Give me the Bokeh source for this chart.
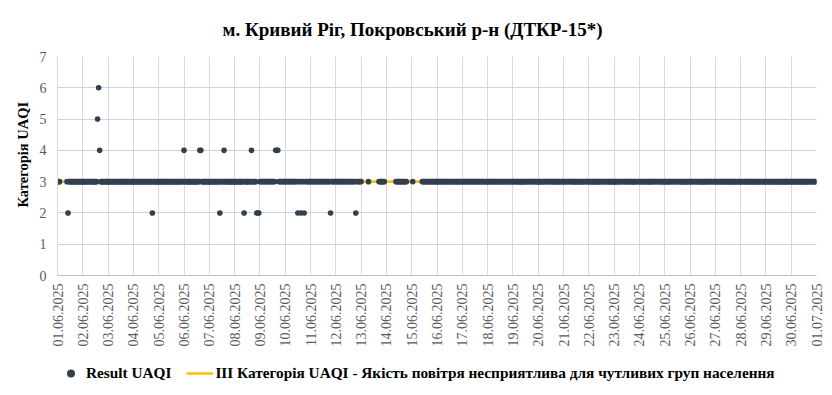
from datetime import datetime, timedelta
from math import pi

from bokeh.plotting import figure
from bokeh.layouts import column
from bokeh.models import (ColumnDataSource, DaysTicker, DatetimeTickFormatter,
                          FixedTicker, Legend, LegendItem, Range1d, Title)
from bokeh.embed import file_html
from bokeh.resources import INLINE

# ---------------- data ----------------
title_text = "м. Кривий Ріг, Покровський р-н (ДТКР-15*)"
y_label = "Категорія UAQI"
series_name = "Result UAQI"
threshold_name = ("III Категорія UAQI - Якість повітря несприятлива "
                  "для чутливих груп населення")

period_start = datetime(2025, 6, 1)
period_end = datetime(2025, 7, 1)
n_hours = 720              # hourly readings 01.06 00:00 .. 30.06 23:00
base_value = 3             # value of every hour not listed below

# hours (counted from 01.06 00:00) with no reading
gap_starts = [3, 289, 296, 311, 332, 338]
gap_ends = [8, 294, 304, 320, 336, 345]

# hours whose category differs from 3
outlier_hours = [10, 38, 39, 40, 90, 120, 135, 136, 154, 158, 177, 184,
                 189, 190, 191, 207, 208, 209, 228, 231, 234, 259, 283]
outlier_values = [2, 5, 6, 4, 2, 4, 4, 4, 2, 4, 2, 4,
                  2, 2, 2, 4, 4, 4, 2, 2, 2, 2, 2]

threshold_x = [period_start, period_end]
threshold_y = [3, 3]

y_ticks = [0, 1, 2, 3, 4, 5, 6, 7]

# ---------------- build the hourly series ----------------
values = {h: base_value for h in range(n_hours)}
for s, e in zip(gap_starts, gap_ends):
    for h in range(s, e + 1):
        values.pop(h, None)
for h, v in zip(outlier_hours, outlier_values):
    values[h] = v
hours = sorted(values)
src = ColumnDataSource(dict(
    t=[period_start + timedelta(hours=h) for h in hours],
    v=[values[h] for h in hours],
))

FONT = "Liberation Serif"
DOT = "#333f4f"
GOLD = "#ffc000"

p = figure(frame_width=759, frame_height=219,
           x_axis_type="datetime",
           x_range=Range1d(period_start, period_end),
           y_range=Range1d(0, 7),
           output_backend="svg", toolbar_location=None,
           min_border_left=57, min_border_right=16,
           min_border_top=56, min_border_bottom=75)

p.outline_line_color = None
p.background_fill_color = "white"
p.border_fill_color = "white"

# title
p.title.text = title_text
p.title.text_font = FONT
p.title.text_font_size = "19px"
p.title.text_font_style = "bold"
p.title.text_color = "#000000"
p.title.align = "left"
p.title.offset = 165
p.title.standoff = 33

# threshold line (behind dots)
r_line = p.line(threshold_x, threshold_y, line_color=GOLD, line_width=2.6)
# data dots
r_dots = p.scatter("t", "v", source=src, size=5.6, marker="circle",
                   fill_color=DOT, line_color=DOT, line_width=0)

# axes
xa = p.xaxis[0]
xa.ticker = DaysTicker(days=list(range(1, 32)))
xa.formatter = DatetimeTickFormatter(days="%d.%m.%Y", months="%d.%m.%Y")
xa.major_label_orientation = pi / 2
xa.major_label_text_font = FONT
xa.major_label_text_font_size = "14px"
xa.major_label_text_color = "#595959"
xa.major_label_standoff = 8
xa.major_tick_out = 0
xa.major_tick_in = 0
xa.minor_tick_out = 0
xa.minor_tick_in = 0
xa.axis_line_color = "#bfbfbf"

ya = p.yaxis[0]
ya.ticker = FixedTicker(ticks=y_ticks)
ya.major_label_text_font = FONT
ya.major_label_text_font_size = "14px"
ya.major_label_text_color = "#595959"
ya.major_label_standoff = 11
ya.major_tick_out = 0
ya.major_tick_in = 0
ya.minor_tick_out = 0
ya.minor_tick_in = 0
ya.axis_line_color = "#d9d9d9"

# y-axis title (placed like the reference: a little above the frame centre)
y_title = Title(text=y_label, align="left", offset=68, standoff=12,
                text_font=FONT, text_font_size="14.5px",
                text_font_style="bold", text_color="#000000")
p.add_layout(y_title, "left")

p.xgrid.grid_line_color = "#d9d9d9"
p.xgrid.ticker = xa.ticker
p.ygrid.grid_line_color = "#c9d3e8"
p.ygrid.ticker = ya.ticker

# ---------------- legend strip under the chart ----------------
lg = figure(width=p.frame_width + 73, height=45,
            x_range=Range1d(0, 1), y_range=Range1d(0, 1),
            output_backend="svg", toolbar_location=None,
            min_border=0)
lg.axis.visible = False
lg.grid.visible = False
lg.outline_line_color = None
lg.border_fill_color = "white"
# legend swatches (their single placeholder point lies outside the view)
lg_dots = lg.scatter(x=[-1], y=[-1], size=4.2, marker="circle",
                     fill_color=DOT, line_color=DOT, line_width=0)
lg_line = lg.line(x=[-2, -1], y=[-1, -1], line_color=GOLD, line_width=2.6)

legend = Legend(items=[LegendItem(label=series_name, renderers=[lg_dots]),
                       LegendItem(label=threshold_name, renderers=[lg_line])],
                orientation="horizontal", location=(0, 12))
legend.label_text_font = FONT
legend.label_text_font_size = "15.3px"
legend.label_text_font_style = "bold"
legend.label_text_color = "#000000"
legend.glyph_width = 27
legend.label_standoff = 2
legend.spacing = 15
legend.padding = 0
legend.margin = 0
legend.border_line_color = None
legend.background_fill_alpha = 0
lg.add_layout(legend, "center")

page = column(p, lg, spacing=0)
open("out.html", "w").write(file_html(page, INLINE))
